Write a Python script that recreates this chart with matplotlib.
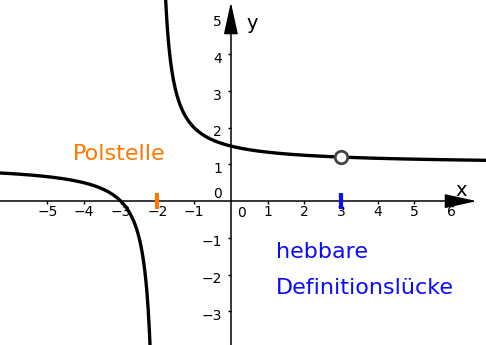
import numpy as np
import matplotlib.pyplot as plt
from matplotlib.transforms import ScaledTranslation

# f(x) = (x - zero) / (x - pole), with a removable gap at x = hole_x
zero = -3.0
pole = -2.0
hole_x = 3.0

x_ticks = [-5, -4, -3, -2, -1, 1, 2, 3, 4, 5, 6]
y_ticks = [-3, -2, -1, 1, 2, 3, 4, 5]

pole_label = "Polstelle"
hole_label = ["hebbare", "Definitionslücke"]

x_min, x_max = -6.29, 6.95
y_min, y_max = -3.92, 5.48

orange = "#FF7700"
blue = "#0A0AFF"


def f(x):
    return (x - zero) / (x - pole)


fig = plt.figure(figsize=(4.86, 3.45), dpi=100)
ax = fig.add_axes([0, 0, 1, 1])
ax.set_xlim(x_min, x_max)
ax.set_ylim(y_min, y_max)

# axes through the origin
ax.spines['left'].set_position(('data', 0))
ax.spines['bottom'].set_position(('data', 0))
ax.spines['right'].set_visible(False)
ax.spines['top'].set_visible(False)
ax.spines['left'].set_bounds(y_min, 5.0)
ax.spines['bottom'].set_bounds(x_min, 6.2)
for s in ['left', 'bottom']:
    ax.spines[s].set_linewidth(1.1)

ax.annotate('', xy=(6.7, 0), xytext=(5.9, 0),
            arrowprops=dict(arrowstyle='-|>,head_length=1.0,head_width=0.22',
                            mutation_scale=20, color='black', lw=1.1,
                            shrinkA=0, shrinkB=0))
ax.annotate('', xy=(0, 5.42), xytext=(0, 4.6),
            arrowprops=dict(arrowstyle='-|>,head_length=1.0,head_width=0.22',
                            mutation_scale=20, color='black', lw=1.1,
                            shrinkA=0, shrinkB=0))

ax.set_xticks(x_ticks)
ax.set_yticks(y_ticks)
ax.set_xticklabels([str(v).replace('-', '\u2212') for v in x_ticks])
ax.set_yticklabels([str(v).replace('-', '\u2212') for v in y_ticks])
ax.tick_params(axis='x', direction='out', length=2.5, width=1, pad=0.5, labelsize=10)
ax.tick_params(axis='y', direction='out', length=2.5, width=1, pad=4, labelsize=10)
for lab in ax.get_yticklabels():
    lab.set_transform(lab.get_transform() + ScaledTranslation(0, -3 / 100, fig.dpi_scale_trans))

ax.text(0.3, -0.12, '0', fontsize=10, ha='center', va='top')
ax.text(-0.24, 0.0, '0', fontsize=10, ha='right', va='bottom')
ax.text(6.27, 0.3, 'x', fontsize=14, ha='center', va='center')
ax.text(0.58, 4.85, 'y', fontsize=14, ha='center', va='center')

# curve, two branches around the pole
xl = np.linspace(x_min, pole - 0.15, 400)
xr = np.linspace(pole + 0.17, x_max, 600)
ax.plot(xl, f(xl), color='black', lw=2.4, solid_capstyle='butt')
ax.plot(xr, f(xr), color='black', lw=2.4, solid_capstyle='butt')

# hole
ax.plot([hole_x], [f(hole_x)], 'o', ms=9, mfc='white', mec='#444444', mew=2, zorder=5)

# marks on the x axis
ax.plot([pole], [0], marker='|', ms=12, mew=3, color=orange, zorder=4)
ax.plot([hole_x], [0], marker='|', ms=12, mew=3, color=blue, zorder=4)

ax.text(-4.31, 1.12, pole_label, color=orange, fontsize=16, ha='left', va='baseline')
ax.text(1.23, -1.55, hole_label[0], color=blue, fontsize=16, ha='left', va='baseline')
ax.text(1.23, -2.53, hole_label[1], color=blue, fontsize=16, ha='left', va='baseline')

fig.savefig('out.png', dpi=100)
